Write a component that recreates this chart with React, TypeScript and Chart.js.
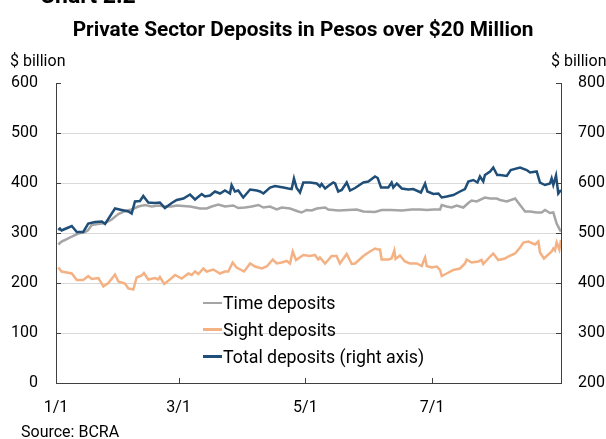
import React, { useEffect, useRef } from "react";
import { Chart, registerables } from "chart.js";
Chart.register(...registerables);

// x axis: days since 1 January
const tickDays = [0, 59, 120, 181];
const tickLabels = ["1/1", "3/1", "5/1", "7/1"];
const leftTicks = [0, 100, 200, 300, 400, 500, 600];
const rightTicks = [200, 300, 400, 500, 600, 700, 800];

const timeDays = [1.1, 2.7, 4.3, 7.6, 10.7, 14, 15.5, 17.2, 20.2, 23.6, 26.8, 30, 33.2, 36.4, 39.6, 42.8, 46, 49.2, 52.4, 55.7, 58.1, 64.5, 69.3, 72.5, 74.9, 78.1, 81.3, 85.3, 87.7, 90.9, 94.2, 97.4, 99.8, 103, 106.2, 108.6, 112.6, 116.6, 118.2, 120.6, 123, 125.5, 129.5, 131, 135.8, 140.6, 144.7, 147.9, 153.5, 156.7, 161.5, 166.4, 171.2, 175.2, 178.4, 181.6, 184.8, 185.6, 188, 190.4, 192.8, 196, 198.4, 200, 202.4, 206.4, 208.9, 212.1, 213.7, 216.9, 220.9, 223.3, 225.7, 228.1, 231.3, 233.7, 235.3, 237.7, 239.3, 240.9, 242.5, 243];
const timeValues = [277, 283, 286, 293, 299, 302, 306, 316, 318, 320, 327, 338, 344, 347, 353, 356, 353, 355, 353, 353, 355, 353, 349, 349, 353, 357, 353, 355, 350, 351, 353, 356, 351, 353, 347, 351, 349, 343, 341, 346, 345, 349, 351, 347, 345, 346, 347, 343, 342, 346, 346, 345, 347, 347, 346, 347, 347, 356, 353, 351, 355, 351, 360, 365, 363, 371, 369, 369, 366, 363, 369, 356, 343, 343, 341, 341, 346, 340, 341, 319, 306, 303];

const sightDays = [1.1, 2.7, 7.6, 10, 13.1, 15.5, 17.2, 20.4, 22.8, 25.2, 28.4, 30, 33.2, 34.8, 37.2, 38.8, 41.2, 42.3, 44.4, 47.6, 49.2, 50, 52.1, 55.7, 57.3, 60.5, 63.7, 65.3, 66.9, 68.5, 70.9, 72.5, 75.7, 77.3, 78.9, 81.3, 82.9, 85, 86.9, 90.5, 93.4, 95.8, 99, 101.4, 104.3, 106.2, 108.6, 111, 112.6, 113.9, 115.5, 119, 122.2, 124.6, 126.2, 127, 129.5, 131, 132.6, 135, 136.6, 139.9, 142.3, 143.9, 147.9, 150.3, 153.5, 155.1, 155.9, 156.7, 159.9, 161.5, 162.8, 163.4, 165.5, 167.9, 170.3, 173.6, 176, 176.8, 177.6, 178.4, 180.8, 183.2, 184.8, 185.6, 188, 191.2, 194.4, 196.8, 197.6, 200, 203.2, 204.8, 205.6, 208.9, 210.4, 212.8, 216, 217.6, 220.9, 223.3, 224.9, 227.3, 230.5, 232.1, 232.9, 234.8, 236.9, 238.5, 239.3, 240.1, 240.9, 242.2, 243];
const sightValues = [231, 223, 219, 206, 206, 214, 208, 210, 193, 200, 217, 203, 199, 189, 187, 211, 215, 220, 207, 210, 207, 212, 198, 210, 216, 209, 219, 216, 223, 218, 229, 223, 227, 223, 219, 223, 223, 241, 231, 223, 239, 233, 229, 233, 247, 239, 241, 244, 239, 263, 246, 256, 254, 256, 247, 251, 239, 246, 254, 254, 239, 258, 238, 239, 254, 261, 269, 267, 267, 247, 247, 249, 265, 248, 255, 243, 239, 239, 234, 243, 251, 234, 231, 233, 226, 214, 219, 226, 229, 239, 247, 241, 243, 246, 238, 253, 259, 246, 249, 253, 259, 271, 281, 283, 277, 283, 261, 249, 257, 263, 269, 265, 281, 267, 286];

const totalDays = [1.1, 1.9, 2.7, 4.3, 7.6, 10, 13.1, 15.5, 18.8, 22.1, 23.6, 28.4, 31.6, 34.8, 36.4, 38, 40.4, 42, 44.4, 47.6, 50, 52.4, 55.7, 58.1, 61.3, 64.5, 66.9, 70.1, 71.7, 74.1, 76.5, 78.9, 81.3, 83.7, 84.5, 86.1, 87.7, 90.1, 93.4, 96.6, 98.2, 99.8, 103, 105.4, 109.4, 111.8, 113.4, 114.5, 115.8, 117.4, 119, 122.2, 125.5, 127, 127.8, 129.5, 131, 133.4, 134.3, 135.8, 137.5, 139.9, 141.5, 143.9, 147.9, 150.3, 153.5, 154.8, 156.4, 159.9, 161.5, 162.3, 164, 166.4, 169.5, 171.9, 175.6, 177.6, 178.7, 181.6, 184, 185.6, 188, 191.2, 194.4, 196.8, 198.4, 200.8, 202.8, 204, 205.6, 206.4, 208.9, 210.4, 212.3, 213.7, 216.9, 218.8, 223.3, 226.5, 228.1, 231.3, 232.9, 235.3, 237.7, 238.5, 239.3, 240.6, 241.7, 243];
const totalValues = [506, 509, 505, 508, 514, 502, 502, 519, 522, 523, 518, 549, 546, 543, 539, 563, 564, 574, 561, 560, 561, 550, 560, 566, 569, 577, 567, 578, 573, 575, 583, 579, 585, 579, 596, 583, 585, 571, 587, 585, 583, 579, 591, 594, 591, 589, 588, 609, 590, 581, 601, 601, 599, 593, 598, 589, 594, 601, 599, 583, 586, 601, 585, 590, 601, 603, 613, 610, 591, 591, 601, 591, 599, 589, 587, 588, 581, 599, 583, 578, 579, 571, 573, 576, 583, 588, 603, 606, 601, 613, 603, 616, 623, 631, 616, 616, 614, 626, 631, 626, 621, 623, 601, 596, 599, 609, 596, 615, 579, 586];

const BLUE = "#1F4E79";
const GRAY = "#A5A5A5";
const ORANGE = "#F4B183";
const AXIS = "#404040";
const GRID = "#D9D9D9";
const FONT = "Roboto";

const pts = (xs: number[], ys: number[]) => xs.map((x, i) => ({ x, y: ys[i] }));

const innerTicks = {
  id: "innerTicks",
  afterDraw(chart: any) {
    const { ctx, chartArea, scales } = chart;
    ctx.save();
    ctx.strokeStyle = AXIS;
    ctx.lineWidth = 1;
    ctx.beginPath();
    leftTicks.forEach((v) => {
      const py = Math.round(scales.y.getPixelForValue(v)) + 0.5;
      ctx.moveTo(chartArea.left, py);
      ctx.lineTo(chartArea.left + 5, py);
    });
    rightTicks.forEach((v) => {
      const py = Math.round(scales.y2.getPixelForValue(v)) + 0.5;
      ctx.moveTo(chartArea.right, py);
      ctx.lineTo(chartArea.right - 5, py);
    });
    tickDays.slice(1).forEach((d) => {
      const px = Math.round(scales.x.getPixelForValue(d)) + 0.5;
      ctx.moveTo(px, chartArea.bottom);
      ctx.lineTo(px, chartArea.bottom - 5);
    });
    ctx.stroke();
    ctx.restore();
  },
};

export default function App() {
  const ref = useRef<HTMLCanvasElement>(null);
  useEffect(() => {
    const chart = new Chart(ref.current as HTMLCanvasElement, {
      type: "line",
      data: {
        datasets: [
          { label: "Total deposits (right axis)", data: pts(totalDays, totalValues), yAxisID: "y2", borderColor: BLUE, borderWidth: 2.5, pointRadius: 0, tension: 0, order: 0 },
          { label: "Time deposits", data: pts(timeDays, timeValues), yAxisID: "y", borderColor: GRAY, borderWidth: 2.5, pointRadius: 0, tension: 0, order: 1 },
          { label: "Sight deposits", data: pts(sightDays, sightValues), yAxisID: "y", borderColor: ORANGE, borderWidth: 2.5, pointRadius: 0, tension: 0, order: 2 },
        ],
      },
      options: {
        animation: false,
        responsive: false,
        devicePixelRatio: 1,
        layout: { padding: { left: 0, right: 0, top: 83, bottom: 0 } },
        plugins: { legend: { display: false }, tooltip: { enabled: false } },
        scales: {
          x: {
            type: "linear",
            min: 0,
            max: 243,
            afterBuildTicks: (s: any) => { s.ticks = tickDays.map((v) => ({ value: v })); },
            afterFit: (s: any) => { s.height = 56; },
            ticks: {
              autoSkip: false,
              maxRotation: 0,
              padding: 15,
              color: "#000",
              font: { family: FONT, size: 16 },
              callback: (v: any) => tickLabels[tickDays.indexOf(Number(v))] ?? "",
            },
            grid: { display: false, drawTicks: false },
            border: { display: true, color: AXIS, width: 1 },
          },
          y: {
            position: "left",
            min: 0,
            max: 600,
            afterBuildTicks: (s: any) => { s.ticks = leftTicks.map((v) => ({ value: v })); },
            afterFit: (s: any) => { s.width = 56; },
            ticks: { padding: 18, color: "#000", font: { family: FONT, size: 16 } },
            grid: {
              drawTicks: false,
              color: (c: any) => (c.tick && (c.tick.value === 0 || c.tick.value === 600) ? "rgba(0,0,0,0)" : GRID),
              lineWidth: 1,
            },
            border: { display: true, color: AXIS, width: 1 },
          },
          y2: {
            position: "right",
            min: 200,
            max: 800,
            afterBuildTicks: (s: any) => { s.ticks = rightTicks.map((v) => ({ value: v })); },
            afterFit: (s: any) => { s.width = 45; },
            ticks: { padding: 17, color: "#000", font: { family: FONT, size: 16 } },
            grid: { display: false, drawTicks: false },
            border: { display: true, color: AXIS, width: 1 },
          },
        },
      },
      plugins: [innerTicks],
    } as any);
    return () => chart.destroy();
  }, []);

  const text: React.CSSProperties = { position: "absolute", fontFamily: FONT, color: "#000", whiteSpace: "nowrap", lineHeight: 1 };
  const legendRows = [
    { label: "Time deposits", color: GRAY, y: 303 },
    { label: "Sight deposits", color: ORANGE, y: 329.5 },
    { label: "Total deposits (right axis)", color: BLUE, y: 356.5 },
  ];

  return (
    <div style={{ position: "fixed", left: 0, top: 0, width: 606, height: 439, background: "#fff", overflow: "hidden" }}>
      <canvas ref={ref} width={606} height={439} style={{ position: "absolute", left: 0, top: 0, width: 606, height: 439 }} />
      <div style={{ ...text, left: 40, top: -16, fontSize: 23, fontWeight: 700 }}>Chart 2.2</div>
      <div style={{ ...text, left: 0, width: 606, top: 19, textAlign: "center", fontSize: 20.8, fontWeight: 700 }}>
        Private Sector Deposits in Pesos over $20 Million
      </div>
      <div style={{ ...text, left: 10, top: 53, fontSize: 16 }}>$ billion</div>
      <div style={{ ...text, left: 551, top: 53, fontSize: 16 }}>$ billion</div>
      <div style={{ ...text, left: 21, top: 424, fontSize: 16 }}>Source: BCRA</div>
      {legendRows.map((r) => (
        <React.Fragment key={r.label}>
          <div style={{ position: "absolute", left: 203, top: r.y - 1.25, width: 19, height: 2.5, background: r.color }} />
          <div style={{ ...text, left: 223, top: r.y - 9, fontSize: 17.8 }}>{r.label}</div>
        </React.Fragment>
      ))}
    </div>
  );
}
